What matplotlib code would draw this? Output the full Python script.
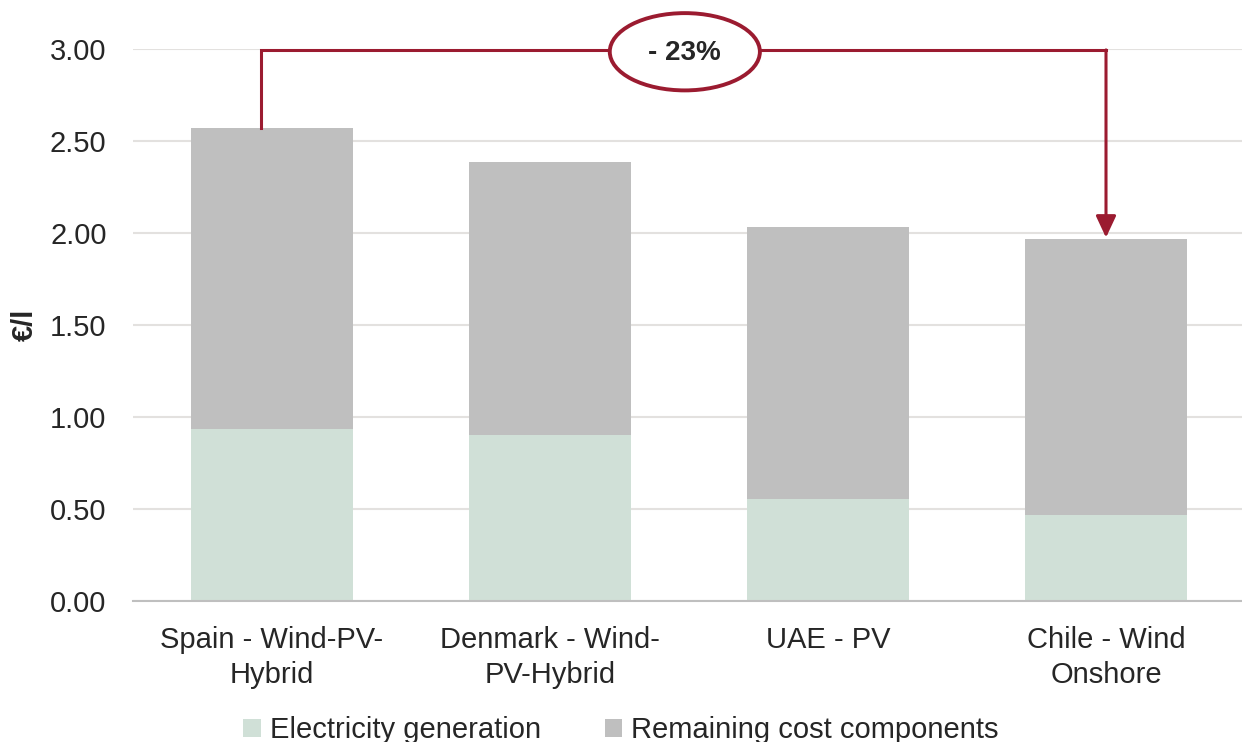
import matplotlib
matplotlib.use("Agg")
import matplotlib.pyplot as plt
from matplotlib.patches import Ellipse

# data
categories = ["Spain - Wind-PV-\nHybrid", "Denmark - Wind-\nPV-Hybrid", "UAE - PV", "Chile - Wind\nOnshore"]
electricity = [0.935, 0.90, 0.555, 0.47]
totals = [2.57, 2.385, 2.03, 1.97]
remaining = [t - e for t, e in zip(totals, electricity)]
yticks = [0.0, 0.5, 1.0, 1.5, 2.0, 2.5, 3.0]
change_label = "- 23%"

plt.rcParams["font.family"] = ["Liberation Sans", "DejaVu Sans"]
TXT = "#262626"
RED = "#9B1B30"
GREEN = "#D0E0D7"
GREY = "#BFBFBF"

fig = plt.figure(figsize=(12.42, 7.42), dpi=100)
ax = fig.add_axes([133 / 1242, 141 / 742, 1112 / 1242, 552 / 742])

x = range(len(categories))
ax.bar(x, electricity, width=0.586, color=GREEN, label="Electricity generation", zorder=2)
ax.bar(x, remaining, bottom=electricity, width=0.586, color=GREY,
       label="Remaining cost components", zorder=2)

ax.set_xlim(-0.5, 3.5)
ax.set_ylim(0, 3.0)
ax.set_yticks(yticks)
ax.set_yticklabels([f"{v:.2f}" for v in yticks])
ax.set_xticks(list(x))
ax.set_xticklabels(categories, linespacing=1.3)
ax.tick_params(axis="both", length=0, labelsize=21, colors=TXT)
ax.tick_params(axis="y", pad=19)
ax.tick_params(axis="x", pad=18)
ax.yaxis.grid(True, color="#E3E1DF", linewidth=1.5, zorder=0)
ax.set_axisbelow(True)
for s in ["top", "right", "left"]:
    ax.spines[s].set_visible(False)
ax.spines["bottom"].set_color(GREY)
ax.spines["bottom"].set_linewidth(1.5)
ax.spines["bottom"].set_zorder(3)

ax.set_ylabel("€/l", fontsize=21, fontweight="bold", color=TXT, labelpad=8)

# bracket from Spain to Chile
x0 = -0.04
x1 = 3
ytop = 2.995
ax.plot([x0, x0, x1], [totals[0], ytop, ytop], color=RED, lw=2.2, clip_on=False, zorder=4,
        solid_joinstyle="miter")
ax.annotate("", xy=(x1, totals[3] + 0.005), xytext=(x1, ytop),
            arrowprops=dict(arrowstyle="-|>,head_length=0.6,head_width=0.28", color=RED,
                            lw=2.2, mutation_scale=22, shrinkA=0, shrinkB=0),
            zorder=4, annotation_clip=False)
xm = (x0 + x1) / 2 + 0.005
ell = Ellipse((xm, ytop - 0.01), width=0.54, height=0.42, facecolor="white",
              edgecolor=RED, lw=2.8, clip_on=False, zorder=5)
ax.add_patch(ell)
ax.text(xm, ytop - 0.015, change_label, ha="center", va="center", fontsize=20,
        fontweight="bold", color=TXT, zorder=6)

leg = fig.legend(loc="center", bbox_to_anchor=(0.5, 0.016), ncol=2, frameon=False,
                 fontsize=21, handlelength=0.6, handleheight=0.6, handletextpad=0.3,
                 columnspacing=2.2, labelcolor=TXT)

fig.savefig("out.png", dpi=100)
